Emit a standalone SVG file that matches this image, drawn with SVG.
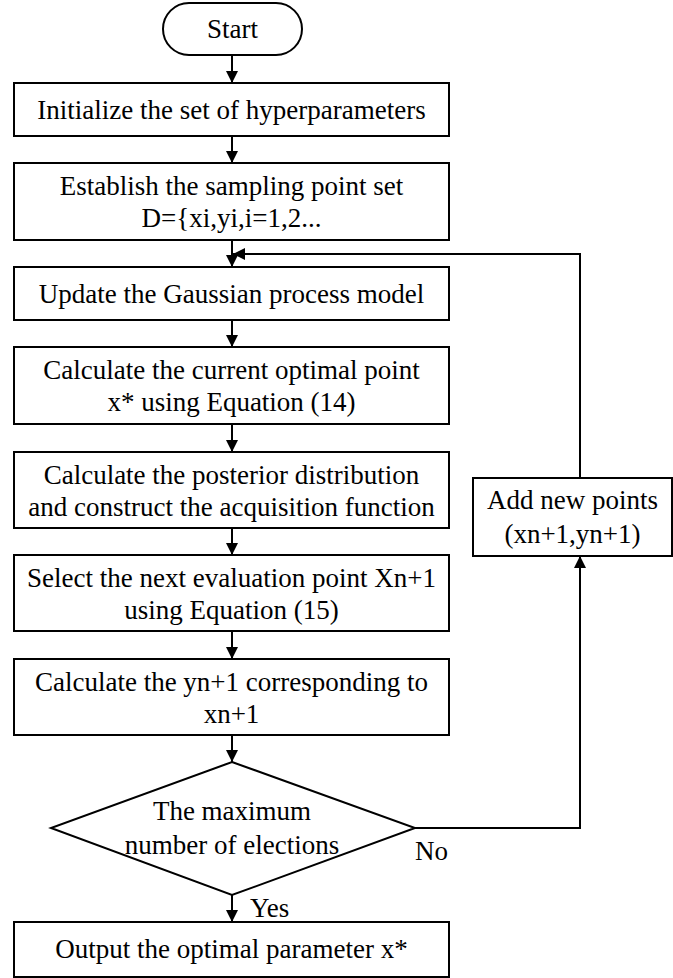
<svg xmlns="http://www.w3.org/2000/svg" width="673" height="978" viewBox="0 0 673 978">
  <defs>
    <marker id="arrow" markerWidth="12" markerHeight="14" refX="12" refY="7" orient="auto" markerUnits="userSpaceOnUse">
      <path d="M0,1 L12,7 L0,13 Z" fill="#000"/>
    </marker>
    <style>
      .box { fill: #fff; stroke: #000; stroke-width: 2; }
      .line { fill: none; stroke: #000; stroke-width: 2; }
      .t { font-size: 27px; fill: #000; text-anchor: middle; }
      .lbl { text-anchor: start; }
    </style>
  </defs>
  <rect width="673" height="978" fill="#fff"/>

  <g id="connectors">
    <line class="line" x1="232" y1="55" x2="232" y2="83" marker-end="url(#arrow)"/>
    <line class="line" x1="232" y1="136" x2="232" y2="163" marker-end="url(#arrow)"/>
    <line class="line" x1="232" y1="240" x2="232" y2="267" marker-end="url(#arrow)"/>
    <line class="line" x1="232" y1="320" x2="232" y2="347" marker-end="url(#arrow)"/>
    <line class="line" x1="232" y1="424" x2="232" y2="452" marker-end="url(#arrow)"/>
    <line class="line" x1="232" y1="528" x2="232" y2="555" marker-end="url(#arrow)"/>
    <line class="line" x1="232" y1="631" x2="232" y2="659" marker-end="url(#arrow)"/>
    <line class="line" x1="232" y1="735" x2="232" y2="762" marker-end="url(#arrow)"/>
    <line class="line" x1="232" y1="895" x2="232" y2="922" marker-end="url(#arrow)"/>
    <!-- No branch: diamond to Add box -->
    <polyline class="line" points="415,828 580,828 580,556" marker-end="url(#arrow)"/>
    <!-- loop back above the model update -->
    <polyline class="line" points="580,478 580,254 233,254" marker-end="url(#arrow)"/>
  </g>

  <g font-family="Liberation Serif, Times New Roman, Times, DejaVu Serif, serif">
    <g id="start">
      <rect class="box" x="163" y="3" width="139" height="52" rx="26" ry="26"/>
      <text class="t" x="232.5" y="38">Start</text>
    </g>

    <g id="init">
      <rect class="box" x="14" y="83" width="435" height="53"/>
      <text class="t" x="231.5" y="119">Initialize the set of hyperparameters</text>
    </g>

    <g id="sampling">
      <rect class="box" x="14" y="163" width="435" height="77"/>
      <text class="t" x="231.5" y="195">Establish the sampling point set</text>
      <text class="t" x="231.5" y="227">D={xi,yi,i=1,2...</text>
    </g>

    <g id="update">
      <rect class="box" x="14" y="267" width="435" height="53"/>
      <text class="t" x="231.5" y="303">Update the Gaussian process model</text>
    </g>

    <g id="current">
      <rect class="box" x="14" y="347" width="435" height="77"/>
      <text class="t" x="231.5" y="379">Calculate the current optimal point</text>
      <text class="t" x="231.5" y="411">x* using Equation (14)</text>
    </g>

    <g id="posterior">
      <rect class="box" x="14" y="452" width="435" height="76"/>
      <text class="t" x="231.5" y="484">Calculate the posterior distribution</text>
      <text class="t" x="231.5" y="516">and construct the acquisition function</text>
    </g>

    <g id="select">
      <rect class="box" x="14" y="555" width="435" height="76"/>
      <text class="t" x="231.5" y="587">Select the next evaluation point Xn+1</text>
      <text class="t" x="231.5" y="619">using Equation (15)</text>
    </g>

    <g id="evaluate">
      <rect class="box" x="14" y="659" width="435" height="76"/>
      <text class="t" x="231.5" y="691">Calculate the yn+1 corresponding to</text>
      <text class="t" x="231.5" y="723">xn+1</text>
    </g>

    <g id="decision">
      <polygon class="box" points="232,762 415,828 232,895 51,828"/>
      <text class="t" x="232" y="820">The maximum</text>
      <text class="t" x="232" y="854">number of elections</text>
      <text class="t lbl" x="415" y="860">No</text>
      <text class="t lbl" x="250" y="917">Yes</text>
    </g>

    <g id="add-points">
      <rect class="box" x="473" y="478" width="199" height="78"/>
      <text class="t" x="572.5" y="509">Add new points</text>
      <text class="t" x="572.5" y="543">(xn+1,yn+1)</text>
    </g>

    <g id="output">
      <rect class="box" x="14" y="922" width="435" height="55"/>
      <text class="t" x="231.5" y="958">Output the optimal parameter x*</text>
    </g>
  </g>
</svg>
